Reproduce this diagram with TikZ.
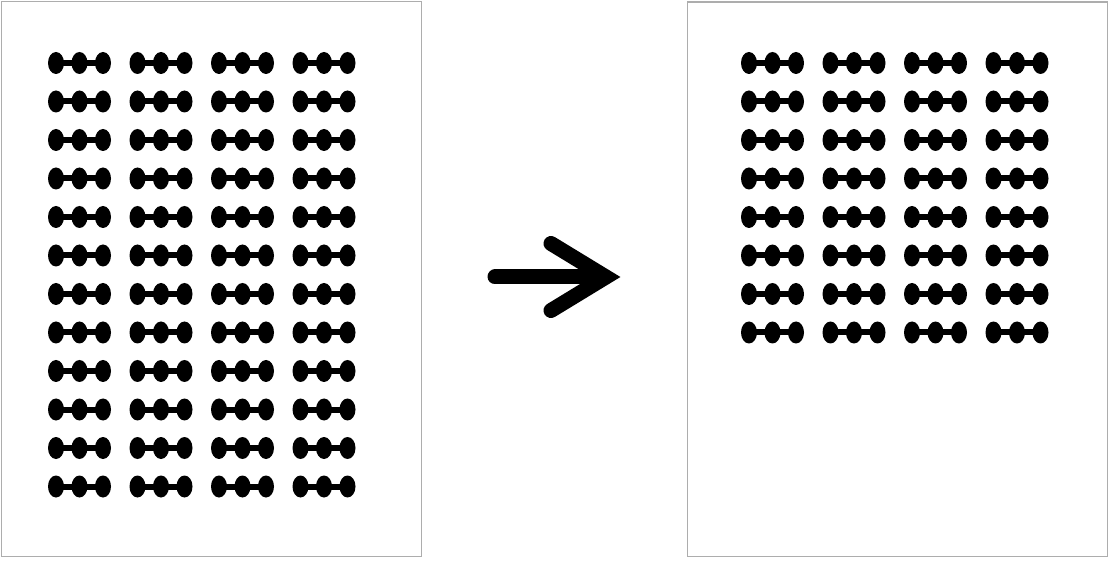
\documentclass[tikz,border=0pt]{standalone}
\usepackage{tikz}

\tikzset{
  sheet/.style = {draw = black!32, line width = 1.4pt},
  blob/.style = {fill = black},
  link/.style = {draw = black, line width = 6pt},
  bigarrow/.style = {draw = black, line width = 15pt, line cap = round}
}

\begin{document}
\begin{tikzpicture}[x = 1pt, y = -1pt]
\useasboundingbox (0,0) rectangle (1109,561);
\def\sheetA{(1.5,1.5) rectangle (421.5,556.5)}
\def\sheetB{(687.5,2) rectangle (1107.5,556.5)}
\draw[sheet] \sheetA;
\draw[sheet] \sheetB;
% little dumbbells, left sheet 4 x 12, right sheet 4 x 8
\foreach \cx in {79.5,161,242.5,324} {
  \foreach \cy in {63,101.5,140,178.5,217,255.5,294,332.5,371,409.5,448,486.5} {
    \draw[link] (\cx-23.5,\cy) -- (\cx+23.5,\cy);
    \fill[blob] (\cx-23.5,\cy) ellipse [x radius = 8, y radius = 11];
    \fill[blob] (\cx,\cy) ellipse [x radius = 8, y radius = 11];
    \fill[blob] (\cx+23.5,\cy) ellipse [x radius = 8, y radius = 11];
  }
}
\foreach \cx in {772.5,854,935.5,1017} {
  \foreach \cy in {63,101.5,140,178.5,217,255.5,294,332.5} {
    \draw[link] (\cx-23.5,\cy) -- (\cx+23.5,\cy);
    \fill[blob] (\cx-23.5,\cy) ellipse [x radius = 8, y radius = 11];
    \fill[blob] (\cx,\cy) ellipse [x radius = 8, y radius = 11];
    \fill[blob] (\cx+23.5,\cy) ellipse [x radius = 8, y radius = 11];
  }
}
% the arrow
\coordinate (tail) at (495,277);
\coordinate (tip) at (606,277);
\coordinate (upper) at (551,243.5);
\coordinate (lower) at (551,310.5);
\draw[bigarrow] (tail) -- (598,277);
\draw[bigarrow, line join = miter] (upper) -- (tip) -- (lower);
\end{tikzpicture}
\end{document}
